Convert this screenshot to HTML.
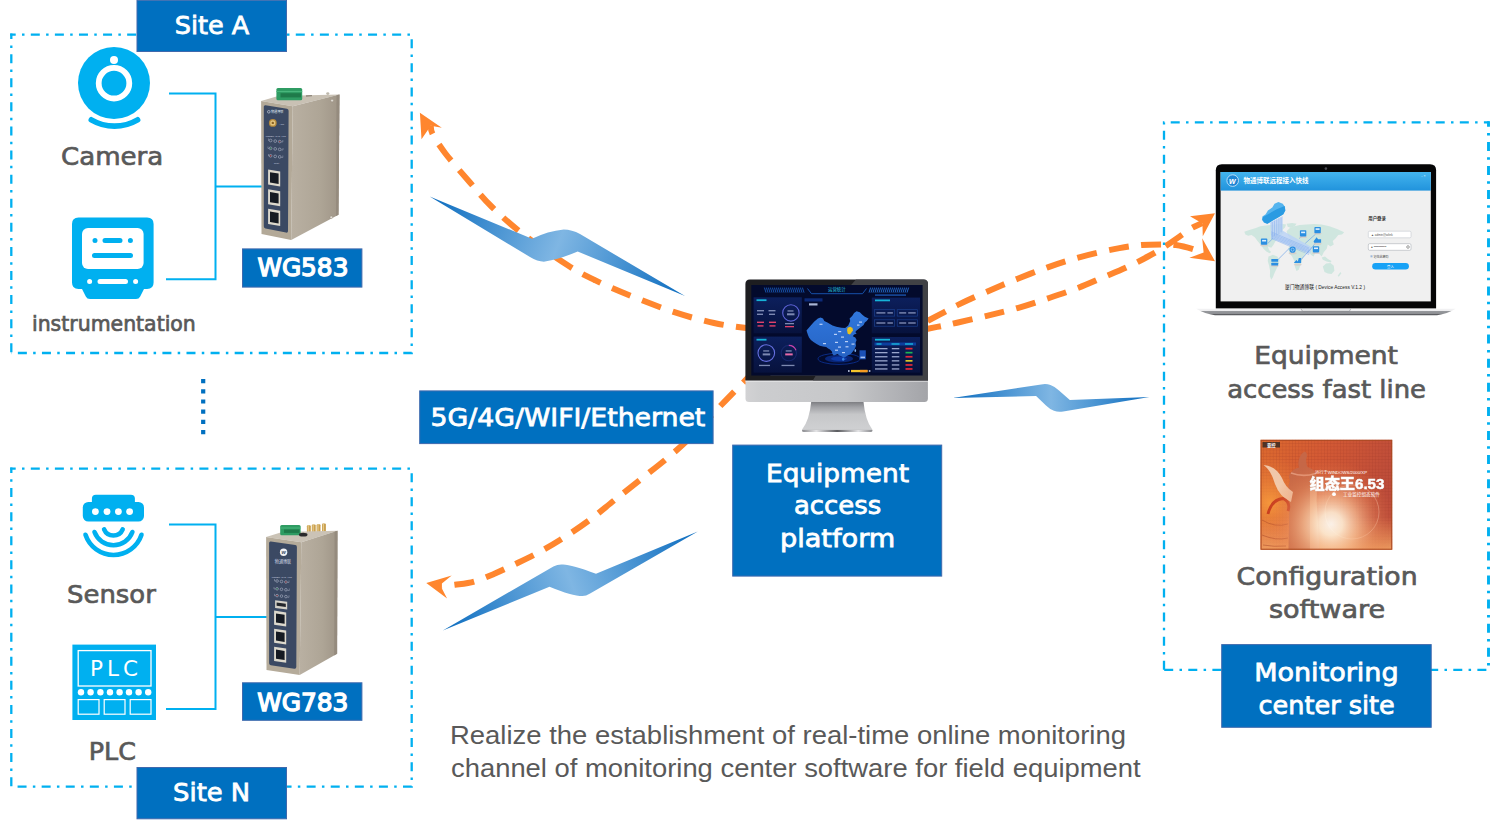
<!DOCTYPE html>
<html lang="en">
<head>
<meta charset="utf-8">
<title>Equipment access platform topology</title>
<style>
html,body{margin:0;padding:0;background:#fff;}
body{width:1500px;height:820px;overflow:hidden;position:relative;font-family:"Liberation Sans","Noto Sans CJK SC",sans-serif;}
svg{position:absolute;left:0;top:0;display:block;}
text{white-space:pre;}
.lbl{font-family:"DejaVu Sans","Liberation Sans","Noto Sans CJK SC",sans-serif;}
.arial{font-family:"Liberation Sans","Noto Sans CJK SC",sans-serif;}
.cjk{font-family:"Liberation Sans","Noto Sans CJK SC",sans-serif;}
.dash{fill:none;stroke:#00B0F0;stroke-width:2.3;stroke-dasharray:9 6.3 2.5 6.29;}
.wire{fill:none;stroke:#00B0F0;stroke-width:2;}
.cy{fill:#00B0F0;}
.box{fill:#0070C0;stroke:#3f69ad;stroke-width:1;}
.wt{fill:#fff;}
.gt{fill:#595959;}
.or{fill:none;stroke:#FF862E;stroke-width:6;stroke-dasharray:20 12.5;}
.orf{fill:#FF862E;}
</style>
</head>
<body>
<svg width="1500" height="820" viewBox="0 0 1500 820">
<defs>
<linearGradient id="gb1" gradientUnits="userSpaceOnUse" x1="430" y1="196" x2="685" y2="296"><stop offset="0" stop-color="#0b6cbf"/><stop offset=".5" stop-color="#7fb6e3"/><stop offset="1" stop-color="#0b6cbf"/></linearGradient>
<linearGradient id="gb2" gradientUnits="userSpaceOnUse" x1="443" y1="630" x2="698" y2="532"><stop offset="0" stop-color="#0b6cbf"/><stop offset=".5" stop-color="#7fb6e3"/><stop offset="1" stop-color="#0b6cbf"/></linearGradient>
<linearGradient id="gb3" gradientUnits="userSpaceOnUse" x1="952" y1="398" x2="1150" y2="398"><stop offset="0" stop-color="#0b6cbf"/><stop offset=".5" stop-color="#7fb6e3"/><stop offset="1" stop-color="#0b6cbf"/></linearGradient>
<linearGradient id="gside" x1="0" y1="0" x2="1" y2="0"><stop offset="0" stop-color="#b9b0a2"/><stop offset=".6" stop-color="#aea596"/><stop offset="1" stop-color="#9f9587"/></linearGradient>
<linearGradient id="gchin" x1="0" y1="0" x2="1" y2="0"><stop offset="0" stop-color="#d2d2d4"/><stop offset=".08" stop-color="#cccdcf"/><stop offset=".55" stop-color="#c6c7c9"/><stop offset=".85" stop-color="#afb0b4"/><stop offset="1" stop-color="#a3a4a8"/></linearGradient>
<linearGradient id="gstand" x1="0" y1="0" x2="0" y2="1"><stop offset="0" stop-color="#7b7c80"/><stop offset=".18" stop-color="#a2a3a7"/><stop offset=".42" stop-color="#c6c7c9"/><stop offset=".9" stop-color="#cfd0d2"/><stop offset="1" stop-color="#b5b6b8"/></linearGradient><linearGradient id="gfoot" x1="0" y1="0" x2="1" y2="0"><stop offset="0" stop-color="#8a8b8f"/><stop offset=".2" stop-color="#e4e4e6"/><stop offset=".5" stop-color="#5a5b5f"/><stop offset=".8" stop-color="#e4e4e6"/><stop offset="1" stop-color="#8a8b8f"/></linearGradient>
<linearGradient id="gpanel" x1="0" y1="0" x2="0" y2="1"><stop offset="0" stop-color="#0c1f5c"/><stop offset="1" stop-color="#07123d"/></linearGradient>
<linearGradient id="gtitle" x1="0" y1="0" x2="0" y2="1"><stop offset="0" stop-color="#43b4ee"/><stop offset="1" stop-color="#2193dc"/></linearGradient>
<linearGradient id="gbase" x1="0" y1="0" x2="0" y2="1"><stop offset="0" stop-color="#f4f4f5"/><stop offset=".3" stop-color="#ececee"/><stop offset=".4" stop-color="#96989c"/><stop offset=".82" stop-color="#8a8c90"/><stop offset=".9" stop-color="#55565a"/><stop offset="1" stop-color="#55565a"/></linearGradient>
<linearGradient id="gkv" x1="0" y1="0" x2="1" y2=".35"><stop offset="0" stop-color="#dc6a2e"/><stop offset=".45" stop-color="#d45a34"/><stop offset="1" stop-color="#bd4c3a"/></linearGradient>
<radialGradient id="gkv2" gradientUnits="userSpaceOnUse" cx="1331" cy="524" r="64"><stop offset="0" stop-color="#fffdf6"/><stop offset=".18" stop-color="#fff0d8" stop-opacity=".97"/><stop offset=".42" stop-color="#fbc79c" stop-opacity=".75"/><stop offset=".72" stop-color="#ee9260" stop-opacity=".35"/><stop offset="1" stop-color="#e4703c" stop-opacity="0"/></radialGradient>
<radialGradient id="gkv3" gradientUnits="userSpaceOnUse" cx="1270" cy="503" r="48"><stop offset="0" stop-color="#f79a3c" stop-opacity=".95"/><stop offset="1" stop-color="#ea7f38" stop-opacity="0"/></radialGradient><linearGradient id="gkv4" x1="0" y1="0" x2="0" y2="1"><stop offset="0" stop-color="#f2a260" stop-opacity="0"/><stop offset=".7" stop-color="#f2a260" stop-opacity="0"/><stop offset="1" stop-color="#f4a866" stop-opacity=".85"/></linearGradient><pattern id="gkgrid" patternUnits="userSpaceOnUse" x="1260" y="440" width="3.2" height="3.2"><path d="M0 0H3.2M0 0V3.2" stroke="#8e2f24" stroke-width=".5" fill="none"/></pattern>
<linearGradient id="gmap" x1="0" y1="0" x2="0" y2="1"><stop offset="0" stop-color="#3077dc"/><stop offset="1" stop-color="#2663c4"/></linearGradient>
</defs>
<g id="flows">
<path class="or" d="M430.8 125.9C431.1 127.3 430.2 129.6 432.6 134.1C435.0 138.6 439.0 145.1 445.2 153.2C451.4 161.3 462.3 173.6 470.0 182.5C477.7 191.4 482.8 198.0 491.5 206.5C500.2 215.0 509.3 223.5 522.0 233.3C534.7 243.1 555.5 257.5 567.7 265.3C579.9 273.1 584.8 275.2 595.0 280.2C605.2 285.1 615.5 289.7 628.7 295.0C641.9 300.3 660.2 307.5 674.4 312.2C688.6 316.9 702.3 320.4 714.0 323.0C725.7 325.6 738.2 326.9 744.5 327.8C750.8 328.7 750.8 328.5 752.0 328.6" stroke-dashoffset="11.65"/>
<path class="orf" d="M419.9 112.8L441.8 127.8L430.8 125.7L421.5 139.3Z"/>
<path class="or" d="M441.9 586.0C444.1 585.8 449.6 585.5 455.0 584.8C460.4 584.0 467.5 583.4 474.2 581.5C480.9 579.6 488.2 576.4 495.0 573.5C501.8 570.6 507.5 567.8 514.8 564.3C522.0 560.8 531.0 556.5 538.5 552.5C546.0 548.5 551.7 545.2 560.0 540.0C568.3 534.8 579.2 527.6 588.2 521.0C597.2 514.4 605.3 507.4 614.0 500.5C622.7 493.6 631.5 486.7 640.5 479.5C649.5 472.3 659.8 464.4 668.0 457.5C676.2 450.6 681.4 446.4 690.0 438.0C698.6 429.6 710.5 416.2 719.5 406.8C728.5 397.4 739.1 386.7 744.2 381.5C749.3 376.3 749.0 376.5 750.0 375.5" stroke-dashoffset="19.9"/>
<path class="orf" d="M426.3 583.1L451.7 575.5L441.9 583.6V588.6L447.1 598.6Z"/>
<path class="or" d="M1204.0 253.4C1202.2 252.7 1197.7 250.5 1193.0 249.1C1188.3 247.7 1181.4 245.8 1176.0 245.0C1170.6 244.2 1166.5 244.4 1160.7 244.4C1154.9 244.4 1148.2 244.4 1141.3 245.0C1134.4 245.6 1126.7 246.8 1119.4 248.1C1112.1 249.4 1105.3 250.8 1097.5 252.7C1089.7 254.5 1080.8 256.8 1072.5 259.2C1064.2 261.6 1057.0 264.0 1047.7 267.3C1038.5 270.6 1026.8 275.1 1017.0 279.0C1007.2 282.9 998.7 286.6 989.2 290.7C979.7 294.8 967.5 300.3 960.0 303.9C952.5 307.5 949.0 309.7 943.9 312.4C938.8 315.1 932.9 318.1 929.3 320.0C925.6 321.9 923.2 323.2 922.0 323.8" stroke-dashoffset="20.7"/>
<path class="orf" d="M1215 261.3L1189.4 257.7L1203.6 252.6L1202.2 238.2Z"/>
<path class="or" d="M1202.2 223.0C1200.6 223.8 1195.6 225.8 1192.4 227.6C1189.2 229.4 1187.9 230.8 1183.3 233.9C1178.7 237.1 1170.9 242.7 1165.0 246.5C1159.1 250.3 1154.4 253.0 1148.0 256.5C1141.6 260.0 1134.3 263.8 1126.7 267.3C1119.1 270.8 1110.6 274.2 1102.6 277.6C1094.6 281.0 1087.4 284.4 1078.5 287.8C1069.6 291.2 1059.2 294.7 1049.2 298.0C1039.2 301.3 1028.7 304.9 1018.5 307.8C1008.3 310.7 998.0 313.1 987.8 315.6C977.5 318.1 964.3 321.0 957.0 322.7C949.7 324.4 948.8 324.6 943.9 325.6C939.0 326.6 931.4 328.0 927.8 328.7C924.1 329.4 923.0 329.5 922.0 329.7" stroke-dashoffset="9.2"/>
<path class="orf" d="M1215 213.2L1190 216.2L1202.4 223.4L1202.8 236.3Z"/>
</g>
<g id="bolts">
<path fill="url(#gb1)" d="M429.7 196.4L532 238.8Q548 231 563.7 229.5Q572 229.5 580 234L685 296.1L577.7 251.5Q560 259 545 261.6Q538 262 530 257Z"/>
<path fill="url(#gb2)" d="M442.8 630.6L553.4 566.4Q558 564 563.1 564.5Q572 565 596 573.7L697.8 531.6L590.1 593.5Q586 596 582.4 596Q572 596 549.5 586.7Z"/>
<path fill="url(#gb3)" d="M952.5 397.9L1041.2 384.4Q1046.3 383.6 1050.5 384.9Q1055 386.5 1059 390.5L1069.8 400.1L1149.4 397.1L1063.2 411.4Q1058 412.2 1054 410.8Q1050 409.5 1046 405.5L1036.1 396.1Z"/>
</g>
<g id="siteA">
<path class="dash" d="M10.2 34.7H411.7V353H11.3" stroke-dashoffset="3.5"/><path class="dash" d="M11.3 33.6V353" stroke-dashoffset="3.5"/>
<rect class="box" x="137.0" y="0.3" width="149.5" height="51.2"/>
<text class="lbl wt" x="174.80" y="34" font-size="25.6" stroke="#fff" stroke-width=".8" textLength="74.44" lengthAdjust="spacingAndGlyphs">Site A</text>
<circle class="cy" cx="114" cy="83" r="36"/>
<circle cx="114" cy="83.2" r="15.3" fill="none" stroke="#fff" stroke-width="5.8"/>
<circle cx="114" cy="60" r="4" fill="#fff"/>
<path d="M91.3 119.8A45.6 45.6 0 0 0 137.6 119.8" fill="none" stroke="#00B0F0" stroke-width="5.6" stroke-linecap="round"/>
<text class="lbl gt" x="60.99" y="165" font-size="25.5" stroke="#595959" stroke-width=".7" textLength="102.25" lengthAdjust="spacingAndGlyphs">Camera</text>
<!-- instrument icon -->
<path class="cy" d="M78.500 217.6H147.100Q153.6 217.6 153.6 224.100V282.500Q153.6 289 147.100 289H144L140.200 296.5Q139 299 136 299H90Q87 299 85.800 296.5L82 289H78.500Q72 289 72 282.500V224.100Q72 217.6 78.500 217.6Z"/>
<rect x="82" y="228" width="61.6" height="41" rx="6" fill="#fff"/>
<g stroke="#00B0F0" stroke-width="5" stroke-linecap="round" fill="none"><path d="M95 240.6h.01M105 240.6h15M130.4 240.6h.01M94.5 255.6h36"/></g>
<g stroke="#fff" stroke-width="5" stroke-linecap="round" fill="none"><path d="M89.6 281.6h.01M100 281.6h25.5M135.6 281.6h.01"/></g>
<text class="lbl gt" x="31.99" y="331" font-size="20.6" stroke="#595959" stroke-width=".7" textLength="163.83" lengthAdjust="spacingAndGlyphs">instrumentation</text>
<path class="wire" d="M169 93.4H215.5V279.3H166M215.5 186.5H262"/>
</g>
<g id="wg583">
<path d="M261.1 101.1L278.2 96.1L339.5 94.5L292.7 106.2Z" fill="#c9c1b4"/>
<rect x="276.4" y="88" width="25.8" height="12.2" rx="1.5" fill="#2f9c63"/>
<rect x="280.5" y="93.200" width="20.5" height="4.2" fill="#1f7a4a"/>
<path d="M276.4 91.5H302.2" stroke="#49b67c" stroke-width="1"/>
<path d="M292.7 106.2L339.5 94.5L338.5 214.8L291.2 240Z" fill="url(#gside)"/>
<path d="M336.500 95.300L339.5 94.5L338.5 214.8L336 216.100Z" fill="#958b7e"/><circle cx="332.100" cy="100.600" r="1.300" fill="#e4e0d8" stroke="#8d8477" stroke-width=".4"/><circle cx="331.300" cy="217.300" r="1.300" fill="#e4e0d8" stroke="#8d8477" stroke-width=".4"/><rect x="306" y="95.200" width="6" height="1.300" fill="#8f877b" transform="rotate(-3 309 96)"/><ellipse cx="327.800" cy="93.600" rx="1.600" ry="1.300" fill="#bdb7ab"/>
<path d="M261.1 101.1L292.7 106.2L291.2 240L261.5 233.9Z" fill="#b3a998"/>
<path d="M265.5 105.2L287 108.8Q288.6 109.1 288.6 110.7L288 231Q288 233 286 232.6L265.5 228.4Q263.8 228 263.8 226.3V106.8Q263.8 105 265.5 105.2Z" fill="#3b4963"/>
<circle cx="272.8" cy="122.9" r="3.9" fill="#b58a3c"/><circle cx="272.8" cy="122.9" r="2.6" fill="#e3c47c"/><circle cx="272.8" cy="122.9" r="1.2" fill="#8a6426"/>
<circle cx="268.800" cy="111.800" r="1.300" fill="none" stroke="#dfe4ee" stroke-width=".6"/><text class="cjk" x="271" y="113.300" font-size="3.300" fill="#dfe4ee" textLength="12.500" lengthAdjust="spacingAndGlyphs">物通博联</text><text class="arial" x="279.500" y="124.600" font-size="2.300" fill="#cfd5e2">ANT</text><text class="arial" x="265.800" y="136.800" font-size="1.900" fill="#cfd5e2" textLength="20" lengthAdjust="spacingAndGlyphs">MODEM  WAN  VPN</text><text class="arial" x="274" y="163.500" font-size="1.900" fill="#cfd5e2">Reset</text><g fill="none" stroke="#aeb6c8" stroke-width=".6"><circle cx="270.6" cy="140.5" r="1.35"/><circle cx="275.2" cy="141.1" r="1.35"/><circle cx="279.7" cy="141.6" r="1.35"/><circle cx="270.6" cy="148.3" r="1.35"/><circle cx="275.2" cy="148.9" r="1.35"/><circle cx="279.7" cy="149.4" r="1.35"/><circle cx="270.6" cy="155.8" r="1.35"/><circle cx="275.2" cy="156.4" r="1.35"/><circle cx="279.7" cy="156.9" r="1.35"/></g><path d="M268.500 138.500V140.500H269.200M282.800 140V142H281.200M268 146.500V148.500H269.200M283 148V150H281.200M268.500 154V156H269.200M282.800 155.500V157.500H281.200" stroke="#aeb6c8" stroke-width=".45" fill="none"/><circle cx="279.700" cy="141.600" r=".7" fill="#a53a3a"/><circle cx="270.600" cy="148.300" r=".7" fill="#3a8a5a"/><circle cx="270.600" cy="155.800" r=".7" fill="#a53a3a"/>
<g><path d="M268.1 169.5L280.2 171.5V186.6L268.1 184.6Z" fill="#dcd8cc"/><path d="M270 172.2L278.6 173.6V184L270 182.6Z" fill="#151a22"/>
<path d="M268.1 189.3L280.2 191.3V206.2L268.1 204.2Z" fill="#dcd8cc"/><path d="M270 192L278.6 193.4V203.6L270 202.2Z" fill="#151a22"/>
<path d="M268.1 208.8L280.2 210.8V226L268.1 224Z" fill="#dcd8cc"/><path d="M270 211.5L278.6 212.9V223.4L270 222Z" fill="#151a22"/></g>
<rect class="box" x="242.5" y="248.9" width="119.4" height="38.2"/>
<text class="lbl wt" x="257.38" y="276" font-size="25" stroke="#fff" stroke-width="1.35" textLength="91.05" lengthAdjust="spacingAndGlyphs">WG583</text>
</g>
<path d="M203.2 379V435" fill="none" stroke="#0070C0" stroke-width="4.2" stroke-dasharray="4.2 6"/>
<g id="siteN">
<path class="dash" d="M10.2 468.6H411.7V786.6H11.3" stroke-dashoffset="3.5"/><path class="dash" d="M11.3 467.5V786.6" stroke-dashoffset="3.5"/>
<rect class="box" x="137.0" y="767.5" width="149.5" height="51.3"/>
<text class="lbl wt" x="173.14" y="800.6" font-size="25.6" stroke="#fff" stroke-width=".8" textLength="76.93" lengthAdjust="spacingAndGlyphs">Site N</text>
<!-- sensor icon -->
<rect class="cy" x="91.9" y="494.8" width="43" height="14" rx="4"/>
<rect class="cy" x="82.8" y="501.9" width="61.2" height="19.6" rx="5.5"/>
<g fill="#fff"><circle cx="95.4" cy="511.6" r="3.4"/><circle cx="107" cy="511.6" r="3.4"/><circle cx="118.4" cy="511.6" r="3.4"/><circle cx="129.6" cy="511.6" r="3.4"/></g>
<g fill="none" stroke="#00B0F0" stroke-width="4.6" stroke-linecap="round"><path d="M104.1 529.3A10.1 10.1 0 0 0 122.7 529.3"/><path d="M94.5 532A20.2 20.2 0 0 0 132.4 532"/><path d="M85.5 534.8A29.5 29.5 0 0 0 141.5 534.8"/></g>
<text class="lbl gt" x="67.01" y="602.6" font-size="25.5" stroke="#595959" stroke-width=".7" textLength="88.82" lengthAdjust="spacingAndGlyphs">Sensor</text>
<!-- PLC icon -->
<rect class="cy" x="72.4" y="644.6" width="83.6" height="75.4"/>
<rect x="78.200" y="650.6" width="72.8" height="35.4" fill="none" stroke="#fff" stroke-width="1.3"/>
<text class="lbl wt" x="89.95" y="675.6" font-size="21.5" textLength="48.07" lengthAdjust="spacing">PLC</text>
<g fill="#fff"><circle cx="81" cy="692.2" r="3.2"/><circle cx="90.6" cy="692.2" r="3.2"/><circle cx="100.4" cy="692.2" r="3.2"/><circle cx="110" cy="692.2" r="3.2"/><circle cx="119.6" cy="692.2" r="3.2"/><circle cx="129" cy="692.2" r="3.2"/><circle cx="138.6" cy="692.2" r="3.2"/><circle cx="148.200" cy="692.2" r="3.2"/></g>
<g fill="none" stroke="#fff" stroke-width="1.2"><rect x="78.200" y="699.6" width="20.8" height="14.6"/><rect x="104.200" y="699.6" width="20.8" height="14.6"/><rect x="130.200" y="699.6" width="20.8" height="14.6"/></g>
<text class="lbl gt" x="88.80" y="760.4" font-size="25.5" stroke="#595959" stroke-width=".7" textLength="47.19" lengthAdjust="spacingAndGlyphs">PLC</text>
<path class="wire" d="M169 524.6H215.5V709H166M215.5 617H267"/>
</g>
<g id="wg783">
<g fill="#c9a050"><rect x="306.900" y="525.200" width="3.900" height="8.500" rx="1"/><rect x="311.800" y="524.600" width="3.900" height="8.500" rx="1"/><rect x="316.600" y="524.200" width="3.900" height="8.500" rx="1"/><rect x="322" y="523.600" width="3.900" height="8.500" rx="1"/></g><g fill="#e6c987"><rect x="307.700" y="525.200" width="1.200" height="8.500"/><rect x="312.600" y="524.600" width="1.200" height="8.500"/><rect x="317.400" y="524.200" width="1.200" height="8.500"/><rect x="322.800" y="523.600" width="1.200" height="8.500"/></g>
<path d="M266.1 537.1L282.2 532.1L337.5 530.7L301.3 542.2Z" fill="#cbc3b6"/>
<rect x="280.2" y="525" width="20.4" height="10.200" rx="1.5" fill="#2f9c63"/>
<rect x="284" y="529.500" width="15.500" height="3.4" fill="#1f7a4a"/>
<path d="M280.2 528H300.6" stroke="#49b67c" stroke-width="1"/>
<ellipse cx="303.200" cy="534.700" rx="4.300" ry="1.900" fill="#2a2a2c"/><circle cx="332.300" cy="538" r="1.200" fill="#e4e0d8" stroke="#8d8477" stroke-width=".4"/><circle cx="330.800" cy="654.800" r="1.200" fill="#e4e0d8" stroke="#8d8477" stroke-width=".4"/>
<path d="M301.3 542.2L337.5 530.7L337.1 653.8L299.7 675Z" fill="url(#gside)"/>
<path d="M334.6 531.6L337.5 530.7L337.1 653.8L334.2 655.4Z" fill="#958b7e"/>
<path d="M266.1 537.1L301.3 542.2L299.7 675L266.5 670Z" fill="#b5ab9a"/>
<path d="M270.8 541.4L295.3 545Q296.9 545.3 296.9 546.9L296.3 667Q296.3 669 294.3 668.7L270.8 665.2Q269.1 664.9 269.1 663.2V543Q269.1 541.2 270.8 541.4Z" fill="#3b4963"/>
<circle cx="283.600" cy="552.300" r="3.700" fill="#f1f2f5"/><text class="arial" x="283.600" y="554.300" font-size="5.500" font-style="italic" font-weight="bold" fill="#3b4963" text-anchor="middle">w</text>
<text class="cjk" x="274.800" y="562.800" font-size="4.200" fill="#d5dae6" textLength="16.400" lengthAdjust="spacingAndGlyphs">物通博联</text>
<text class="arial" x="271.800" y="577.500" font-size="1.900" fill="#cfd5e2" textLength="20" lengthAdjust="spacingAndGlyphs">MODEM  WAN  VPN</text><g fill="none" stroke="#aeb6c8" stroke-width=".6"><circle cx="277.1" cy="581.0" r="1.3"/><circle cx="281.5" cy="581.5" r="1.3"/><circle cx="285.9" cy="582.0" r="1.3"/><circle cx="277.1" cy="588.8" r="1.3"/><circle cx="281.5" cy="589.3" r="1.3"/><circle cx="285.9" cy="589.8" r="1.3"/><circle cx="277.1" cy="595.6" r="1.3"/><circle cx="281.5" cy="596.1" r="1.3"/><circle cx="285.9" cy="596.6" r="1.3"/></g><path d="M274.500 579V581H275.600M289 580.500V582.500H287.400M274 587V589H275.600M289.300 588.500V590.500H287.400M274.500 593.800V595.800H275.600M289 595.300V597.300H287.400" stroke="#aeb6c8" stroke-width=".45" fill="none"/><circle cx="285.900" cy="582" r=".7" fill="#a53a3a"/><circle cx="277.100" cy="588.800" r=".7" fill="#3a8a5a"/><circle cx="277.100" cy="595.600" r=".7" fill="#a53a3a"/>
<path d="M275.1 600.2L287.2 601.7V609.6L275.1 608.1Z" fill="#d5d2c8"/><path d="M276.6 602.6L285.8 603.8V607L276.6 605.800Z" fill="#23262c"/>
<g><path d="M274.1 610.6L286.2 612.4V626.5L274.1 624.7Z" fill="#dcd8cc"/><path d="M276 613.4L284.6 614.7V623.8L276 622.5Z" fill="#151a22"/>
<path d="M274.1 628.7L286.2 630.5V644.6L274.1 642.8Z" fill="#dcd8cc"/><path d="M276 631.5L284.6 632.8V641.9L276 640.6Z" fill="#151a22"/>
<path d="M274.1 646.8L286.2 648.6V662.7L274.1 660.9Z" fill="#dcd8cc"/><path d="M276 649.6L284.6 650.9V660L276 658.7Z" fill="#151a22"/></g>
<rect class="box" x="242.5" y="682.8" width="119.4" height="37.5"/>
<text class="lbl wt" x="257.19" y="710.7" font-size="25" stroke="#fff" stroke-width="1.35" textLength="91.23" lengthAdjust="spacingAndGlyphs">WG783</text>
</g>
<g id="net">
<rect class="box" x="419.7" y="390.9" width="293.4" height="52.7"/>
<text class="lbl wt" x="430.60" y="426" font-size="25.6" stroke="#fff" stroke-width=".8" textLength="274.70" lengthAdjust="spacingAndGlyphs">5G/4G/WIFI/Ethernet</text>
</g>
<g id="monitor">
<path d="M802.1 429.600Q809.500 420 811.2 401.700H863.500Q865.200 420 872.3 429.600Q873 431.800 870.500 431.800H804Q801.400 431.800 802.1 429.600Z" fill="url(#gstand)"/>
<path d="M802.300 430H872.200Q872.800 431.900 870.500 431.900H804Q801.700 431.900 802.300 430Z" fill="url(#gfoot)"/>
<path d="M745.5 380H927.900V398.400Q927.900 401.900 924.400 401.900H749Q745.500 401.900 745.500 398.400Z" fill="url(#gchin)"/>
<path d="M745.5 380.400H927.900V381.400H745.500Z" fill="#f3f3f4"/>
<path d="M749.9 279.4H923.5Q928 279.4 928 283.9V380.400H745.4V283.9Q745.4 279.4 749.9 279.4Z" fill="#1d1d20"/>
<path d="M856 279.4H923.5Q928 279.4 928 283.9V380.400H812.800L815.500 376H770Z" fill="#47484c" opacity=".85"/>
<rect x="751.3" y="285" width="171.3" height="90.5" fill="#030a2c"/>
<path d="M766.0 292.6L764.4 287.6M768.0 292.6L766.4 287.6M770.0 292.6L768.4 287.6M772.0 292.6L770.4 287.6M774.0 292.6L772.4 287.6M776.0 292.6L774.4 287.6M778.0 292.6L776.4 287.6M780.0 292.6L778.4 287.6M782.0 292.6L780.4 287.6M784.0 292.6L782.4 287.6M786.0 292.6L784.4 287.6M788.0 292.6L786.4 287.6M790.0 292.6L788.4 287.6M792.0 292.6L790.4 287.6M794.0 292.6L792.4 287.6M796.0 292.6L794.4 287.6M798.0 292.6L796.4 287.6M800.0 292.6L798.4 287.6M802.0 292.6L800.4 287.6M804.0 292.6L802.4 287.6" stroke="#1d63c6" stroke-width=".9" fill="none" opacity="0.9"/><path d="M869.0 292.6L870.6 287.6M871.0 292.6L872.6 287.6M873.0 292.6L874.6 287.6M875.0 292.6L876.6 287.6M877.0 292.6L878.6 287.6M879.0 292.6L880.6 287.6M881.0 292.6L882.6 287.6M883.0 292.6L884.6 287.6M885.0 292.6L886.6 287.6M887.0 292.6L888.6 287.6M889.0 292.6L890.6 287.6M891.0 292.6L892.6 287.6M893.0 292.6L894.6 287.6M895.0 292.6L896.6 287.6M897.0 292.6L898.6 287.6M899.0 292.6L900.6 287.6M901.0 292.6L902.6 287.6M903.0 292.6L904.6 287.6M905.0 292.6L906.6 287.6M907.0 292.6L908.6 287.6" stroke="#2a7be0" stroke-width=".9" fill="none" opacity="0.9"/><path d="M807.5 288.5L811.5 293.7H862.5L866.5 288.5" fill="none" stroke="#1c62c9" stroke-width=".8"/>
<text class="cjk" x="836.8" y="291.300" font-size="4.4" fill="#29d3e6" text-anchor="middle">运营统计</text>
<rect x="875" y="294.3" width="31" height="1.6" fill="#1b57b5" opacity=".8"/>
<g fill="url(#gpanel)"><rect x="753.6" y="297.3" width="48.200" height="36"/><rect x="753.6" y="336.6" width="48.200" height="36"/><rect x="871.8" y="297.6" width="48.200" height="35.7"/><rect x="871.8" y="337" width="48.200" height="35.6"/></g>
<g fill="#16b3d8"><rect x="756.5" y="299.3" width="10" height="1.8"/><rect x="756.5" y="338.8" width="10" height="1.8"/><rect x="875" y="299.5" width="15" height="1.8"/><rect x="875" y="338.8" width="15" height="1.8"/></g>
<rect x="804.5" y="298.3" width="18" height="3.2" fill="#0d2a78"/><rect x="809" y="303.3" width="8.5" height="2.2" fill="#aab6d6"/>
<g fill="none"><circle cx="790.9" cy="312.9" r="8.200" stroke="#5e63d8" stroke-width="1.1"/><circle cx="766.3" cy="353.1" r="8.3" stroke="#6670e0" stroke-width="1.1"/><circle cx="788.8" cy="353.1" r="7.7" stroke="#17286b" stroke-width="1.1"/><path d="M788.8 345.4A7.700 7.700 0 0 1 796 350.3" stroke="#c642a8" stroke-width="1.1"/></g>
<g fill="#9aa6cc" opacity=".8"><rect x="787.5" y="310.3" width="6" height="1.3"/><rect x="787" y="313.3" width="7.500" height="2"/><rect x="763.2" y="350.300" width="6" height="1.3"/><rect x="762.7" y="353.4" width="7.500" height="2"/><rect x="785.7" y="350.300" width="6" height="1.3"/><rect x="757" y="310" width="7" height="1.4"/><rect x="757" y="313.6" width="6" height="1.4"/><rect x="768.5" y="310" width="7" height="1.4"/><rect x="769" y="313.6" width="6" height="1.4"/><rect x="785" y="323" width="9" height="1.3"/><rect x="759" y="364.800" width="11" height="1.3"/><rect x="781.5" y="364.800" width="13" height="1.3"/></g>
<g fill="#e0416a"><rect x="757" y="321.6" width="7" height="1.4"/><rect x="757.5" y="325.2" width="6" height="1.4"/><rect x="769" y="321.6" width="7" height="1.4"/><rect x="769.5" y="325.2" width="6" height="1.4"/><rect x="785" y="326" width="9" height="1.3"/><rect x="785.2" y="353.4" width="7.500" height="2" fill="#e76aa8"/></g>
<ellipse cx="839" cy="358.800" rx="21" ry="5.6" fill="none" stroke="#0b2f8e" stroke-width=".9"/><ellipse cx="839" cy="358.800" rx="14" ry="3.8" fill="#092678"/><ellipse cx="839" cy="358.800" rx="8" ry="2.2" fill="#0d3aa6"/>
<path d="M806.5 330.6L809.7 326.8L814.1 321.7L817.9 318.6L820.5 317.6L823.0 318.6L824.3 321.1L827.4 322.6L832.5 325.6L836.3 326.8L841.4 327.7L845.2 328.1L848.3 325.6L850.2 321.1L849.6 318.6L852.2 316.0L854.1 312.9L856.6 311.2L859.8 312.2L862.3 314.8L864.8 316.7L868.6 318.6L866.7 321.1L864.8 322.4L863.6 324.9L859.8 328.1L856.6 330.6L855.3 331.9L856.6 333.8L854.1 334.4L852.8 336.3L855.3 337.6L856.6 340.1L855.6 342.7L856.0 345.8L854.7 349.0L852.8 351.5L850.9 354.1L847.7 355.6L845.2 356.9L843.3 357.6L842.0 356.6L839.5 355.4L837.6 354.1L835.7 354.7L833.8 355.6L832.5 354.1L831.9 351.5L830.0 349.6L828.1 348.4L826.2 347.1L823.0 346.5L819.8 345.8L816.6 343.9L813.5 342.0L810.9 340.1L809.0 337.6L807.8 334.4Z" fill="url(#gmap)"/><ellipse cx="843.2" cy="359.2" rx="1.2" ry="1.5" fill="#3a86e6"/><ellipse cx="855.3" cy="350.5" rx=".8" ry="1.6" fill="#7fb0f0"/>
<path d="M847.5 327.7L850.2 326.8L852.5 328.1L853.0 330.6L851.5 332.5L850.0 334.4L847.7 333.8L847.1 330.6Z" fill="#e9c21d"/>
<g fill="#d4e2ff" opacity=".85"><rect x="819.5" y="323.700" width="3" height="1.200"/><rect x="838.2" y="331" width="3" height="1.200"/><rect x="834" y="333.800" width="3" height="1.200"/><rect x="841" y="336.5" width="3" height="1.200"/><rect x="835" y="341.800" width="3" height="1.200"/><rect x="845" y="341" width="3" height="1.200"/><rect x="838" y="346.500" width="3" height="1.200"/><rect x="845.5" y="346.200" width="3" height="1.200"/><rect x="823" y="343" width="3" height="1.200"/><rect x="851.5" y="343.5" width="3" height="1.200"/><rect x="859" y="321.5" width="3" height="1.200"/><rect x="857" y="324.5" width="2.500" height="1.200"/><rect x="842" y="352" width="3" height="1.200"/><rect x="835" y="349.600" width="3" height="1.200"/></g>
<rect x="859.500" y="350.300" width="6.300" height="9" fill="#1b50b8"/><rect x="860.500" y="356.600" width="4.500" height="1.600" fill="#a8c2f4"/>
<rect x="851" y="369.900" width="16.500" height="2.300" fill="#f4c52c"/><rect x="860" y="369.900" width="7.500" height="2.300" fill="#f59a23"/><rect x="848" y="370.200" width="1.600" height="1.600" fill="#cdd6ee"/><rect x="868.800" y="370.200" width="1.600" height="1.600" fill="#cdd6ee"/>
<g fill="none" stroke="#1a3f8e" stroke-width=".7"><rect x="874.4" y="309.700" width="20.300" height="6.400"/><rect x="897.200" y="309.700" width="20.300" height="6.400"/><rect x="874.4" y="319.800" width="20.300" height="6.400"/><rect x="897.200" y="319.800" width="20.300" height="6.400"/></g>
<g fill="#9aa6cc" opacity=".8"><rect x="876.4" y="312.2" width="9" height="1.400"/><rect x="887.4" y="312.2" width="5.500" height="1.400"/><rect x="899.200" y="312.2" width="7" height="1.400"/><rect x="908.2" y="312.2" width="7.500" height="1.400"/><rect x="876.4" y="322.300" width="9" height="1.400"/><rect x="887.4" y="322.300" width="5.500" height="1.400"/><rect x="899.200" y="322.300" width="7" height="1.400"/><rect x="908.2" y="322.300" width="7.500" height="1.400"/></g>
<rect x="874.500" y="342.500" width="41.500" height="3" fill="#0c3f9e"/>
<g fill="#19b7dc"><rect x="876.5" y="343.300" width="5" height="1.400"/><rect x="891.5" y="343.300" width="8" height="1.400"/><rect x="905" y="343.300" width="8" height="1.400"/></g>
<g><rect x="875" y="348.0" width="12.500" height="1.300" fill="#9aa6cc"/><rect x="891.800" y="348.0" width="7.500" height="1.300" fill="#9aa6cc"/><rect x="905.500" y="347.8" width="7" height="1.700" fill="#e2283a"/><rect x="875" y="352.0" width="12.500" height="1.300" fill="#9aa6cc"/><rect x="891.800" y="352.0" width="7.500" height="1.300" fill="#9aa6cc"/><rect x="905.500" y="351.8" width="7" height="1.700" fill="#1fb455"/><rect x="875" y="356.1" width="12.500" height="1.300" fill="#9aa6cc"/><rect x="891.800" y="356.1" width="7.500" height="1.300" fill="#9aa6cc"/><rect x="905.500" y="355.9" width="7" height="1.700" fill="#e2283a"/><rect x="875" y="360.2" width="12.500" height="1.300" fill="#9aa6cc"/><rect x="891.800" y="360.2" width="7.500" height="1.300" fill="#9aa6cc"/><rect x="905.500" y="360.0" width="7" height="1.700" fill="#d8c628"/><rect x="875" y="364.3" width="12.500" height="1.300" fill="#9aa6cc"/><rect x="891.800" y="364.3" width="7.500" height="1.300" fill="#9aa6cc"/><rect x="905.500" y="364.1" width="7" height="1.700" fill="#e2283a"/><rect x="875" y="368.3" width="12.500" height="1.300" fill="#9aa6cc"/><rect x="891.800" y="368.3" width="7.500" height="1.300" fill="#9aa6cc"/><rect x="905.500" y="368.1" width="7" height="1.700" fill="#e2283a"/></g>
</g>
<g id="platform">
<rect class="box" x="732.7" y="445.1" width="209.0" height="131.0"/>
<text class="lbl wt" x="765.99" y="481.6" font-size="25.4" stroke="#fff" stroke-width=".8" textLength="143.01" lengthAdjust="spacingAndGlyphs">Equipment</text>
<text class="lbl wt" x="794.00" y="514" font-size="25.4" stroke="#fff" stroke-width=".8" textLength="87.23" lengthAdjust="spacingAndGlyphs">access</text>
<text class="lbl wt" x="779.97" y="546.6" font-size="25.4" stroke="#fff" stroke-width=".8" textLength="115.27" lengthAdjust="spacingAndGlyphs">platform</text>
</g>
<g id="center">
<path class="dash" d="M1489.4 122.4H1164V670.95" stroke-dashoffset="3.5"/><path class="dash" d="M1164.2 669.8H1487" stroke-dashoffset="0"/><path class="dash" d="M1488.5 121.3V669.8" stroke-dashoffset="3.5" style="stroke-width:2.9"/>
<!-- laptop -->
<path d="M1221.8 164.3H1430.1Q1436.1 164.3 1436.1 170.3V308.6H1215.8V170.3Q1215.8 164.3 1221.8 164.3Z" fill="#050506"/>
<circle cx="1325.9" cy="168.6" r="1.300" fill="#4a4a50"/>
<rect x="1220.6" y="172" width="210.2" height="129.4" fill="#f0f0f0"/>
<rect x="1220.6" y="172" width="210.2" height="18.6" fill="url(#gtitle)"/>
<circle cx="1232.7" cy="180.600" r="5.800" fill="#1f86d4" stroke="#d9efff" stroke-width=".8"/>
<text class="arial" x="1232.300" y="183.600" font-size="8.500" font-style="italic" font-weight="bold" fill="#fff" text-anchor="middle">w</text>
<text class="cjk" x="1243.600" y="183.200" font-size="6.500" font-weight="bold" fill="#fff" textLength="64.800" lengthAdjust="spacingAndGlyphs">物通博联远程接入快线</text>
<text class="arial" x="1423.500" y="176.600" font-size="3.600" fill="#e6f5ff" text-anchor="middle">- ×</text>
<!-- world map -->
<g fill="#cfe6df"><path d="M1244.3 231.8L1249.3 230.1L1255.9 227.9L1260.3 226.3L1267.9 225.2L1274.5 224.4L1281.1 223.8L1286.1 224.4L1285.0 227.4L1282.2 230.1L1283.9 232.9L1281.1 235.1L1278.4 237.8L1275.6 241.1L1273.4 245.0L1271.2 247.7L1267.9 246.6L1269.0 249.9L1271.2 252.1L1269.6 253.2L1266.3 251.5L1263.5 248.8L1260.8 245.0L1257.5 241.1L1254.8 237.3L1251.5 235.1L1248.2 235.8L1245.4 234.5Z"/><path d="M1286.6 223.8L1292.1 223.0L1296.5 223.8L1294.8 226.3L1291.0 227.9L1287.7 226.8Z"/><path d="M1268.5 256.5L1272.9 254.8L1277.3 256.5L1279.5 259.8L1278.9 264.2L1276.7 268.6L1274.5 273.0L1272.9 277.3L1271.2 279.8L1269.9 276.2L1270.1 270.8L1269.0 265.3L1267.7 260.9Z"/><path d="M1286.6 231.2L1289.9 227.9L1294.3 226.3L1299.8 224.9L1306.4 224.4L1314.1 224.1L1321.7 224.6L1329.4 226.3L1337.1 229.0L1344.2 232.3L1342.0 234.5L1338.2 235.1L1335.5 238.4L1332.7 241.1L1333.8 244.4L1330.5 246.6L1327.8 244.4L1326.7 248.8L1323.9 252.1L1321.7 256.5L1319.5 254.3L1318.4 250.4L1315.7 252.1L1313.5 256.5L1310.8 254.8L1308.6 249.9L1305.3 246.6L1302.0 245.0L1298.7 243.3L1295.9 244.4L1292.1 243.3L1288.8 241.7L1289.9 237.8L1287.7 235.1Z"/><path d="M1289.9 245.0L1294.3 243.9L1299.8 244.4L1303.6 246.6L1306.4 250.4L1305.3 254.3L1302.5 258.7L1300.9 264.2L1298.7 269.7L1296.5 271.0L1294.8 266.4L1294.3 260.9L1292.1 256.5L1289.3 253.2L1288.2 248.8Z"/><path d="M1322.8 266.4L1326.1 263.6L1330.5 263.1L1333.8 265.8L1334.4 270.8L1331.6 274.1L1327.8 273.5L1324.5 271.9Z"/><path d="M1337.7 275.7L1340.4 271.9L1341.3 273.2L1338.8 276.8Z"/><path d="M1321.7 257.6L1325.0 256.5L1328.3 259.2L1331.6 260.9L1330.5 262.5L1326.7 261.4L1322.8 259.8Z"/></g>
<path d="M1270.1 222.4L1282.8 215.9L1282.8 230.7L1311.9 247.2L1310.2 253.7L1271.2 238.4Z" fill="#b9d2f6" opacity=".8"/>
<path d="M1272.3 221.9V237.3M1274.5 220.8V236.2M1276.7 219.7V235.1M1278.9 218.6V234.0M1281.1 217.5V232.3M1271.2 238.4L1309.1 254.6M1271.2 237.1L1309.1 253.3M1271.2 235.7L1309.1 252.0M1271.2 234.4L1309.1 250.7M1271.2 233.1L1309.1 249.3M1271.2 231.8L1309.1 248.0" stroke="#7fa9ee" stroke-width=".45" fill="none"/>
<path d="M1263.8 222.4L1261.9 219.7L1262.4 216.4L1265.7 214.2L1267.9 210.4L1272.3 207.6L1274.5 203.8L1278.4 202.1L1282.8 203.8L1285.0 207.1L1285.3 210.4L1283.3 214.2L1278.9 217.0L1272.3 220.8L1267.4 223.8Z" fill="#55b4ee"/>
<path d="M1264.6 222.7L1262.4 219.7L1263.1 217.0L1266.3 215.2L1276.7 209.3L1284.6 206.0L1285.3 210.4L1283.3 214.2L1278.9 217.0L1272.3 220.8L1267.4 223.8Z" fill="#2a9be2"/>
<path d="M1267.9 243.3L1272.9 238.4M1278.4 259.2L1289.9 247.7M1300.9 259.8L1310.8 248.8L1316.2 242.2M1305.3 243.3L1315.7 234.0M1299.2 238.4L1303.1 235.6" stroke="#5f9bea" stroke-width=".6" fill="none"/>
<g fill="#d9c9c4" opacity=".7"><ellipse cx="1264.1" cy="245.2" rx="4" ry="1.2"/><ellipse cx="1303.1" cy="236.9" rx="4" ry="1.2"/><ellipse cx="1317.6" cy="233.6" rx="4" ry="1.2"/><ellipse cx="1317.6" cy="243.7" rx="4" ry="1.2"/><ellipse cx="1316.0" cy="252.9" rx="4" ry="1.2"/><ellipse cx="1292.6" cy="253.2" rx="4" ry="1.2"/><ellipse cx="1274.7" cy="265.7" rx="4" ry="1.2"/><ellipse cx="1297.8" cy="264.6" rx="4" ry="1.2"/></g><g fill="#2b8fe2"><rect x="1260.9" y="238.6" width="6.4" height="6.2" rx=".8"/><rect x="1299.9" y="230.3" width="6.4" height="6.2" rx=".8"/><rect x="1314.4" y="227.0" width="6.4" height="6.2" rx=".8"/><path d="M1313.6 241.2L1316.6 237.2L1318.1 239.2H1321.1V242.7H1314.1Z"/><rect x="1312.8" y="246.2" width="6.4" height="6.2" rx=".8"/><circle cx="1292.6" cy="249.7" r="3.1"/><rect x="1271.3" y="258.9" width="6.8" height="2.9" rx=".5"/><rect x="1271.3" y="262.7" width="6.8" height="2.9" rx=".5"/><path d="M1293.8 263.1L1296.3 260.1L1297.8 261.6L1298.8 258.1H1301.1V263.1Z"/></g><g fill="#dff0ff"><rect x="1262.1" y="239.9" width="4" height="1.600"/><rect x="1301.1" y="231.6" width="4" height="1.600"/><rect x="1315.6" y="228.3" width="4" height="1.600"/><rect x="1314.0" y="247.5" width="4" height="1.600"/><circle cx="1292.6" cy="249.7" r="1.500" fill="none" stroke="#dff0ff" stroke-width=".5"/></g>
<text class="cjk" x="1368.300" y="219.600" font-size="4.400" font-weight="bold" fill="#333" textLength="17.500" lengthAdjust="spacingAndGlyphs">用户登录</text>
<rect x="1368.300" y="231.200" width="42.700" height="6.600" rx="1.300" fill="#fff" stroke="#b9bec6" stroke-width=".5"/>
<text class="arial" x="1371" y="235.700" font-size="3" fill="#555">▲ admin@wlink</text>
<rect x="1368.300" y="243.700" width="42.700" height="6.600" rx="1.300" fill="#fff" stroke="#9ea4ad" stroke-width=".5"/>
<text class="arial" x="1371" y="248.400" font-size="3" fill="#333">● ••••••••••••</text>
<circle cx="1408" cy="247" r="1.300" fill="none" stroke="#444" stroke-width=".5"/>
<rect x="1370.500" y="255.300" width="2" height="2" fill="#9db7d8"/>
<text class="cjk" x="1373.500" y="257.800" font-size="3" fill="#444">记住此密码</text>
<rect x="1372.200" y="263" width="36.700" height="6.600" rx="3.300" fill="#18a2f6"/>
<text class="cjk" x="1390.500" y="267.600" font-size="3.400" fill="#fff" text-anchor="middle">登入</text>
<text class="cjk" x="1325" y="288.500" font-size="5.300" fill="#222" text-anchor="middle" textLength="80" lengthAdjust="spacingAndGlyphs">厦门物通博联 ( Device Access V.1.2 )</text>
<path d="M1196.200 308.800H1455.700Q1447 314 1437 315.200H1215Q1205 314 1196.200 308.800Z" fill="url(#gbase)"/>
<path d="M1301.400 308.800H1350.400V309.600Q1350.400 311 1348.400 311H1303.400Q1301.400 311 1301.400 309.600Z" fill="#fbfbfc" stroke="#77787c" stroke-width=".5"/>
<text class="lbl gt" x="1254.17" y="364.4" font-size="25.5" stroke="#595959" stroke-width=".7" textLength="143.85" lengthAdjust="spacingAndGlyphs">Equipment</text>
<text class="lbl gt" x="1227.18" y="397.6" font-size="25.5" stroke="#595959" stroke-width=".7" textLength="198.82" lengthAdjust="spacingAndGlyphs">access fast line</text>
<!-- kingview cover -->
<g>
<rect x="1260.600" y="439.800" width="131.600" height="109.900" fill="url(#gkv)"/>
<rect x="1260.600" y="439.800" width="131.600" height="109.900" fill="url(#gkgrid)" opacity=".5"/>
<rect x="1260.600" y="439.800" width="131.600" height="109.900" fill="url(#gkv3)"/>
<rect x="1260.600" y="439.800" width="131.600" height="109.900" fill="url(#gkv4)"/>
<circle cx="1352" cy="512" r="27" fill="none" stroke="#f7c9b0" stroke-width=".8" opacity=".55"/>
<path d="M1288.500 549.700L1289.500 500Q1287 488 1290 480Q1287.500 476 1291 472.500Q1294 468.500 1299 467.500Q1297.500 462 1299.500 458Q1301 453 1305 451.500Q1308 453.500 1306.500 458Q1305.500 462 1307.500 467Q1313 468.500 1315.500 473Q1318 477 1315.500 480.500Q1317.500 488 1316.500 500L1319.500 549.700Z" fill="#c4694a" opacity=".88"/>
<path d="M1310 482V549.700H1319.500L1316.500 500Q1317.500 488 1315.500 482Z" fill="#f0b490" opacity=".55"/>
<path d="M1291 473Q1303 477.500 1315.500 473.500" fill="none" stroke="#e9a184" stroke-width="1.600" opacity=".8"/>
<path d="M1263.500 465Q1271 470 1275 484Q1280 497.500 1291 502L1293 492Q1285.500 487.500 1282 478Q1276 466 1263.500 465Z" fill="#f3d2b6" opacity=".9"/>
<path d="M1268 514Q1271.500 499.500 1283 498.500Q1291 502 1288 511" fill="none" stroke="#c2331c" stroke-width="2.800" opacity=".85"/>
<path d="M1262 520Q1275 528 1288 524M1262 535Q1276 541 1288 538M1263 545Q1274 547 1286 546" fill="none" stroke="#a9482a" stroke-width="1" opacity=".5"/>
<rect x="1260.600" y="439.800" width="131.600" height="109.900" fill="url(#gkv2)" opacity=".92"/>
<rect x="1261.100" y="440.300" width="130.600" height="108.900" fill="none" stroke="#ac4a22" stroke-width="1"/>
<rect x="1262.500" y="442" width="17.500" height="5.500" fill="#3a2b25" opacity=".85"/>
<text class="cjk" x="1271.300" y="446.500" font-size="4.400" font-weight="bold" fill="#fff" text-anchor="middle">亚控</text>
<text class="cjk" x="1341" y="474" font-size="4" fill="#fff" text-anchor="middle" textLength="52" lengthAdjust="spacingAndGlyphs">运行于WINDOWS/2000/XP</text>
<text class="cjk" x="1309.500" y="489" font-size="14.500" font-weight="900" fill="#fff" stroke="#fff" stroke-width=".5" textLength="75" lengthAdjust="spacingAndGlyphs" style="filter:drop-shadow(.7px .7px 0 rgba(110,42,24,.6))">组态王6.53</text>
<circle cx="1334" cy="494.200" r="1.900" fill="#fff"/>
<text class="cjk" x="1361.500" y="495.500" font-size="4.400" fill="#fff" text-anchor="middle" textLength="37" lengthAdjust="spacingAndGlyphs">工业监控组态软件</text>
</g>
<text class="lbl gt" x="1236.59" y="585.1" font-size="25.5" stroke="#595959" stroke-width=".7" textLength="181.04" lengthAdjust="spacingAndGlyphs">Configuration</text>
<text class="lbl gt" x="1268.98" y="618" font-size="25.5" stroke="#595959" stroke-width=".7" textLength="116.22" lengthAdjust="spacingAndGlyphs">software</text>
<rect class="box" x="1221.7" y="644.6" width="209.5" height="82.7"/>
<text class="lbl wt" x="1254.16" y="680.7" font-size="25.4" stroke="#fff" stroke-width=".8" textLength="144.48" lengthAdjust="spacingAndGlyphs">Monitoring</text>
<text class="lbl wt" x="1258.59" y="713.7" font-size="25.4" stroke="#fff" stroke-width=".8" textLength="136.21" lengthAdjust="spacingAndGlyphs">center site</text>
</g>
<text class="arial gt" x="450.00" y="743.6" font-size="26" textLength="676.01" lengthAdjust="spacingAndGlyphs">Realize the establishment of real-time online monitoring</text>
<text class="arial gt" x="451.00" y="776.7" font-size="26" textLength="689.60" lengthAdjust="spacingAndGlyphs">channel of monitoring center software for field equipment</text>
</svg>
</body>
</html>
